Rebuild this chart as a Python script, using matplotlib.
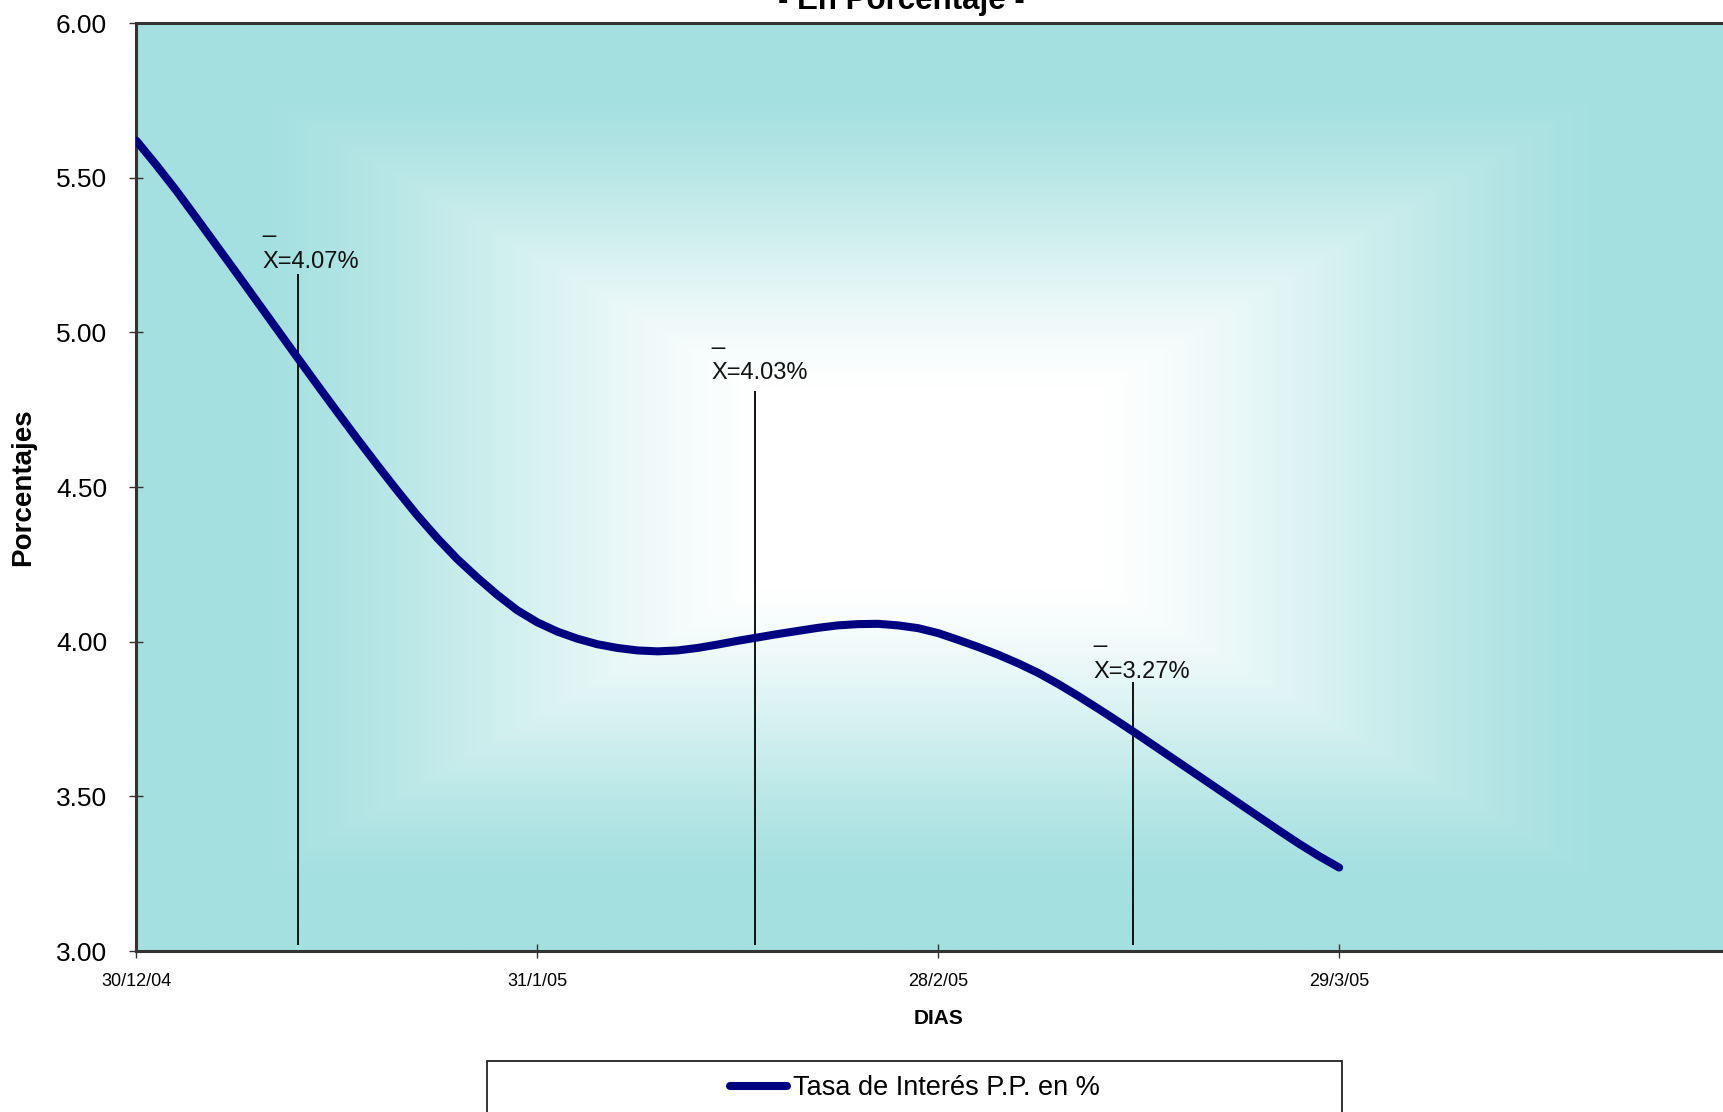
import numpy as np
import matplotlib
matplotlib.use("Agg")
import matplotlib.pyplot as plt
from matplotlib.patches import Rectangle
from matplotlib.lines import Line2D

plt.rcParams['font.family'] = ['Liberation Sans', 'DejaVu Sans']

# ---------------- data ----------------
tasa_pp = [5.620, 5.541, 5.458, 5.370, 5.281, 5.192, 5.102, 5.012, 4.922, 4.833,
           4.745, 4.658, 4.573, 4.490, 4.410, 4.336, 4.268, 4.208, 4.152, 4.102,
           4.063, 4.033, 4.010, 3.992, 3.980, 3.972, 3.969, 3.972, 3.980, 3.991,
           4.003, 4.014, 4.025, 4.035, 4.045, 4.053, 4.057, 4.058, 4.053, 4.044,
           4.028, 4.006, 3.983, 3.958, 3.930, 3.899, 3.863, 3.824, 3.783, 3.741,
           3.698, 3.654, 3.610, 3.566, 3.522, 3.478, 3.434, 3.390, 3.347, 3.307,
           3.270]
tick_labels = ["30/12/04", "31/1/05", "28/2/05", "29/3/05"]
tick_step = 20

mean_values = [4.07, 4.03, 3.27]          # period averages (%)
mean_line_x = [8.05, 30.84, 49.7]         # position of the marker lines
mean_line_top = [5.19, 4.81, 3.87]
mean_line_bottom = 3.02
mean_label_x = [6.3, 28.7, 47.73]
mean_label_y = [5.208, 4.848, 3.884]

series_name = "Tasa de Interés P.P. en %"
title = "- En Porcentaje -"

# ---------------- figure ----------------
W, H = 1724, 1112
fig = plt.figure(figsize=(W / 100, H / 100), dpi=100)
ax_l, ax_t, ax_b = 136.3, 23.1, 951.1
ax = fig.add_axes([ax_l / W, 1 - ax_b / H, 1 - ax_l / W, (ax_b - ax_t) / H])

# gradient background (rectangular, from centre)
nx, ny = 800, 420
U, V = np.meshgrid(np.linspace(0, 1, nx), np.linspace(0, 1, ny))
t = np.maximum(np.abs(U - 0.5) * 2, np.abs(V - 0.5) * 2)
f = np.clip((t - 0.22) / 0.62, 0, 1)
f = (f * 0.6 + (f * f * (3 - 2 * f)) * 0.4)[..., None]
teal = np.array([165, 224, 224]) / 255
white = np.array([1.0, 1.0, 1.0])
rgb = white * (1 - f) + teal * f
ax.imshow(rgb, extent=(0, 1, 0, 1), transform=ax.transAxes, aspect='auto',
          zorder=0, interpolation='bilinear')

x = np.arange(len(tasa_pp))
line, = ax.plot(x, tasa_pp, color='#000080', lw=5.8, solid_capstyle='round',
                solid_joinstyle='round', zorder=3)

ax.vlines(mean_line_x, mean_line_bottom, mean_line_top, color='black', lw=1.3, zorder=2)
for lx, ly, mv in zip(mean_label_x, mean_label_y, mean_values):
    ax.text(lx, ly, "_\nX=%.2f%%" % mv, ha='left', va='baseline', fontsize=17,
            linespacing=1.8, color='#111111', zorder=4)

ax.set_xlim(0, 79.2)
ax.set_ylim(3.0, 6.0)
ax.set_yticks(np.arange(3.0, 6.01, 0.5))
ax.set_yticklabels(["%.2f" % v for v in np.arange(3.0, 6.01, 0.5)], fontsize=19)
ax.set_xticks(np.arange(len(tick_labels)) * tick_step)
ax.set_xticklabels(tick_labels, fontsize=13)

ax.tick_params(axis='both', direction='inout', length=10, width=1, color='#333333')
ax.tick_params(axis='x', pad=11)
ax.tick_params(axis='y', pad=16)

for s in ['top', 'left', 'bottom']:
    ax.spines[s].set_color('#333333')
    ax.spines[s].set_linewidth(2.2)
ax.spines['right'].set_visible(False)

ax.set_ylabel("Porcentajes", fontsize=20, fontweight='bold')
ax.yaxis.set_label_coords(-0.0632, 0.5)
ax.set_xlabel("DIAS", fontsize=15, fontweight='bold')
ax.xaxis.set_label_coords(0.505, -0.0624)

fig.text(901 / W, 1 - 9 / H, title, ha='center', va='baseline',
         fontsize=22.5, fontweight='bold')

# legend
handle = Line2D([], [], color='#000080', lw=5.8, solid_capstyle='round')
fig.legend(handles=[handle], labels=[series_name], loc='center',
           bbox_to_anchor=(915 / W, 1 - 1088 / H), frameon=False,
           fontsize=19.5, handlelength=2.1, handletextpad=0.25)
fig.add_artist(Rectangle((487 / W, 1 - 1140 / H), (1342 - 487) / W, (1140 - 1061) / H,
                         transform=fig.transFigure, fill=False,
                         edgecolor='#222222', lw=1.3))

fig.savefig("out.png", dpi=100)
